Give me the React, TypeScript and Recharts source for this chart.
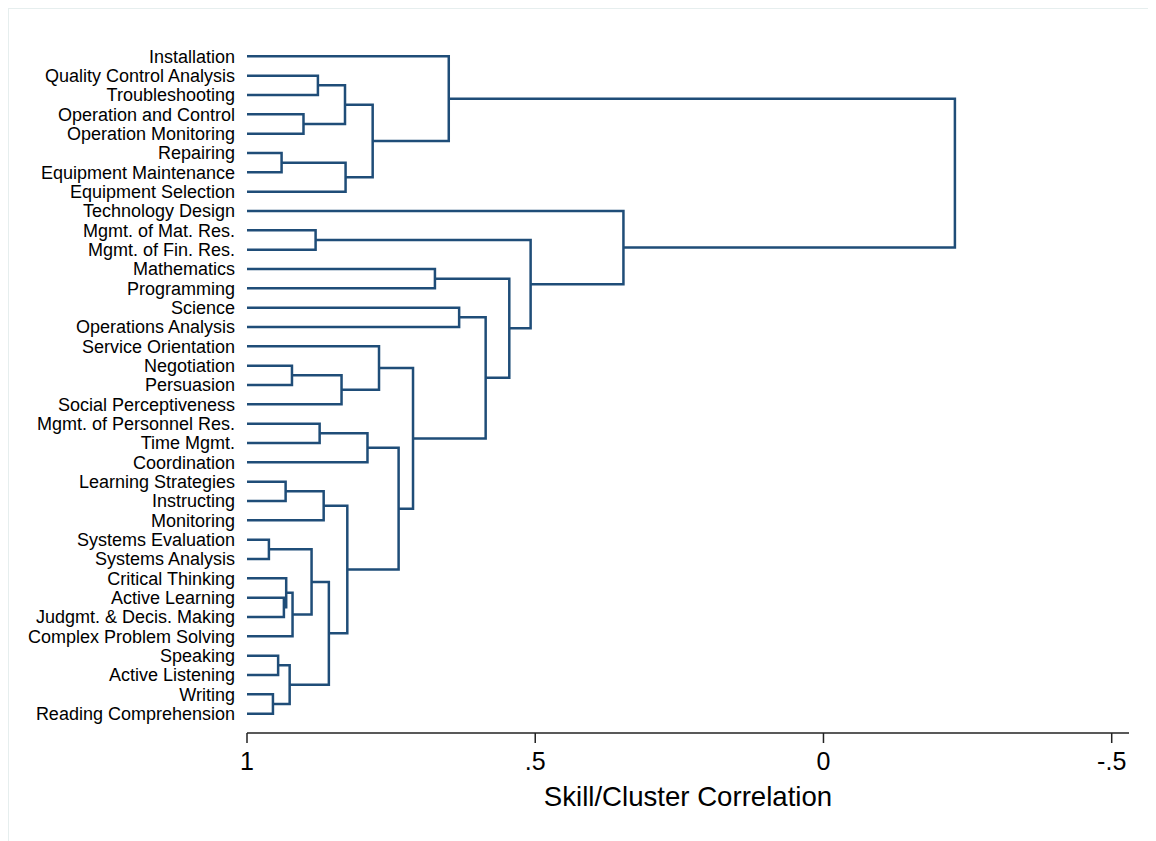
import React from "react";
import { ScatterChart, Scatter, XAxis, YAxis } from "recharts";

// leaves, top to bottom
const skills = [
  "Installation",
  "Quality Control Analysis",
  "Troubleshooting",
  "Operation and Control",
  "Operation Monitoring",
  "Repairing",
  "Equipment Maintenance",
  "Equipment Selection",
  "Technology Design",
  "Mgmt. of Mat. Res.",
  "Mgmt. of Fin. Res.",
  "Mathematics",
  "Programming",
  "Science",
  "Operations Analysis",
  "Service Orientation",
  "Negotiation",
  "Persuasion",
  "Social Perceptiveness",
  "Mgmt. of Personnel Res.",
  "Time Mgmt.",
  "Coordination",
  "Learning Strategies",
  "Instructing",
  "Monitoring",
  "Systems Evaluation",
  "Systems Analysis",
  "Critical Thinking",
  "Active Learning",
  "Judgmt. & Decis. Making",
  "Complex Problem Solving",
  "Speaking",
  "Active Listening",
  "Writing",
  "Reading Comprehension",
];

// merge k creates node id skills.length + k; ids below that are leaves
const mergeLeft = [1, 3, 35, 5, 38, 37, 0, 9, 11, 13, 16, 45, 15, 19, 48, 22, 50, 25, 28, 27, 54, 52, 31, 33, 57, 56, 51, 49, 47, 44, 43, 42, 8, 41];
const mergeRight = [2, 4, 36, 6, 7, 39, 40, 10, 12, 14, 17, 18, 46, 20, 21, 23, 24, 26, 29, 53, 30, 55, 32, 34, 58, 59, 60, 61, 62, 63, 64, 65, 66, 67];
const mergeCorr = [
  0.877, 0.902, 0.83, 0.94, 0.829, 0.782, 0.65, 0.881, 0.674, 0.632, 0.922, 0.836,
  0.771, 0.874, 0.791, 0.933, 0.867, 0.962, 0.936, 0.932, 0.921, 0.888, 0.946, 0.955,
  0.926, 0.858, 0.826, 0.737, 0.712, 0.586, 0.545, 0.508, 0.347, -0.228,
];

const xTicks = [1, 0.5, 0, -0.5];
const xTickLabels = ["1", ".5", "0", "-.5"];

const lineColor = "#1f4d78";
const font = "'Liberation Sans', Arial, Helvetica, sans-serif";

// build the U-shaped links from the merge table
const nodeY: number[] = skills.map((_, i) => i);
const nodeH: number[] = skills.map(() => 1);
const links: { x: number; y: number }[][] = [];
mergeCorr.forEach((h, k) => {
  const a = mergeLeft[k];
  const b = mergeRight[k];
  links.push([
    { x: nodeH[a], y: nodeY[a] },
    { x: h, y: nodeY[a] },
    { x: h, y: nodeY[b] },
    { x: nodeH[b], y: nodeY[b] },
  ]);
  nodeY.push((nodeY[a] + nodeY[b]) / 2);
  nodeH.push(h);
});

const noDot = () => <g />;

export default function App() {
  return (
    <div style={{ position: "relative", width: 1148, height: 833 }}>
      <div
        style={{
          position: "absolute",
          left: 0,
          top: 0,
          width: 1148,
          height: 833,
          borderLeft: "1px solid #e6eeee",
          borderTop: "1px solid #e6eeee",
          boxSizing: "border-box",
          pointerEvents: "none",
        }}
      />
      <div style={{ position: "absolute", left: 0, top: 0 }}>
        <ScatterChart width={1140} height={825} margin={{ top: 29, right: 19, bottom: 20, left: 0 }}>
          <XAxis
            type="number"
            dataKey="x"
            domain={[-0.53, 1]}
            reversed
            allowDataOverflow
            ticks={xTicks}
            tickFormatter={(v: number) => xTickLabels[xTicks.indexOf(v)]}
            interval={0}
            height={80}
            tickSize={10}
            tickMargin={9}
            stroke="#222"
            strokeWidth={1.5}
            tick={{ fill: "#000", fontSize: 25, fontFamily: font }}
            label={{
              value: "Skill/Cluster Correlation",
              position: "insideBottom",
              offset: 7,
              fill: "#000",
              fontSize: 27.6,
              fontFamily: font,
            }}
          />
          <YAxis
            type="number"
            dataKey="y"
            domain={[-1, 35]}
            reversed
            allowDataOverflow
            ticks={skills.map((_, i) => i)}
            tickFormatter={(v: number) => skills[v] ?? ""}
            interval={0}
            width={239}
            axisLine={false}
            tickLine={false}
            tickSize={0}
            tickMargin={12}
            tick={{ fill: "#000", fontSize: 18, fontFamily: font }}
          />
          {links.map((pts, i) => (
            <Scatter
              key={i}
              data={pts}
              line={{ stroke: lineColor, strokeWidth: 2.5 }}
              lineType="joint"
              shape={noDot}
              fill={lineColor}
              isAnimationActive={false}
            />
          ))}
        </ScatterChart>
      </div>
    </div>
  );
}
